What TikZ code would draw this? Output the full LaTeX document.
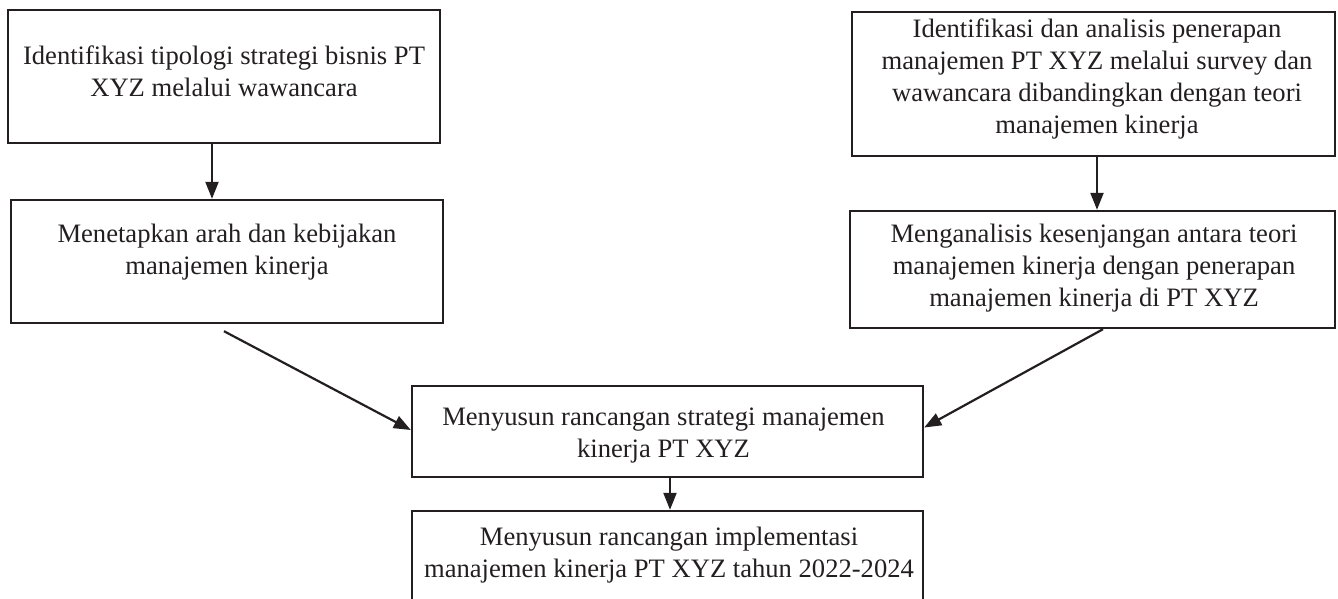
\documentclass[tikz,border=0pt]{standalone}
\usepackage{fontspec}
\setmainfont{Liberation Serif}
\usetikzlibrary{arrows.meta}
\definecolor{ink}{RGB}{35,31,32}
\begin{document}
\begin{tikzpicture}[x=1pt,y=-1pt,
  boxstyle/.style={draw=ink, line width=2.4pt, rectangle, inner sep=0pt},
  txt/.style={align=center, inner sep=0pt, font=\fontsize{26.6}{32}\selectfont, text=ink},
  arr/.style={draw=ink, line width=2.2pt, -{Triangle[length=17pt,width=13pt]}}]
\useasboundingbox (0,0) rectangle (1338,598);
\clip (0,0) rectangle (1338,598);
% boxes
\node[boxstyle, minimum width=432pt, minimum height=133pt] (b1) at (224,76.5) {};
\node[boxstyle, minimum width=432pt, minimum height=123pt] (b3) at (227,261.5) {};
\node[boxstyle, minimum width=483pt, minimum height=144pt] (b2) at (1093.5,84) {};
\node[boxstyle, minimum width=485pt, minimum height=117pt] (b4) at (1092.5,269.5) {};
\node[boxstyle, minimum width=511pt, minimum height=91pt] (bc) at (667.5,431.5) {};
\node[boxstyle, minimum width=511pt, minimum height=109pt] (bd) at (667.5,565.5) {};
% texts
\node[txt] (t1) at (224,74) {\strut Identifikasi tipologi strategi bisnis PT\\\strut XYZ melalui wawancara};
\node[txt] (t3) at (227,252.5) {\strut Menetapkan arah dan kebijakan\\\strut manajemen kinerja};
\node[txt] (t2) at (1097,79.5) {\strut Identifikasi dan analisis penerapan\\\strut manajemen PT XYZ melalui survey dan\\\strut wawancara dibandingkan dengan teori\\\strut manajemen kinerja};
\node[txt] (t4) at (1094,268.5) {\strut Menganalisis kesenjangan antara teori\\\strut manajemen kinerja dengan penerapan\\\strut manajemen kinerja di PT XYZ};
\node[txt] (tc) at (663.5,435.5) {\strut Menyusun rancangan strategi manajemen\\\strut kinerja PT XYZ};
\node[txt] (td) at (669,555) {\strut Menyusun rancangan implementasi\\\strut manajemen kinerja PT XYZ tahun 2022-2024};
% connectors
\draw[arr] ([xshift=-12pt]b1.south) -- ([xshift=-12pt]b1.south |- b3.north);
\draw[arr] ([xshift=3.5pt]b2.south) -- ([xshift=3.5pt]b2.south |- b4.north);
\draw[arr] ([xshift=-3pt,yshift=-7pt]b3.south) -- ([yshift=1.5pt]bc.west);
\draw[arr] ([xshift=10.5pt]b4.south) -- ([yshift=4pt]bc.east);
\draw[arr] ([xshift=2.5pt]bc.south) -- ([xshift=2.5pt]bc.south |- bd.north);
\end{tikzpicture}
\end{document}
